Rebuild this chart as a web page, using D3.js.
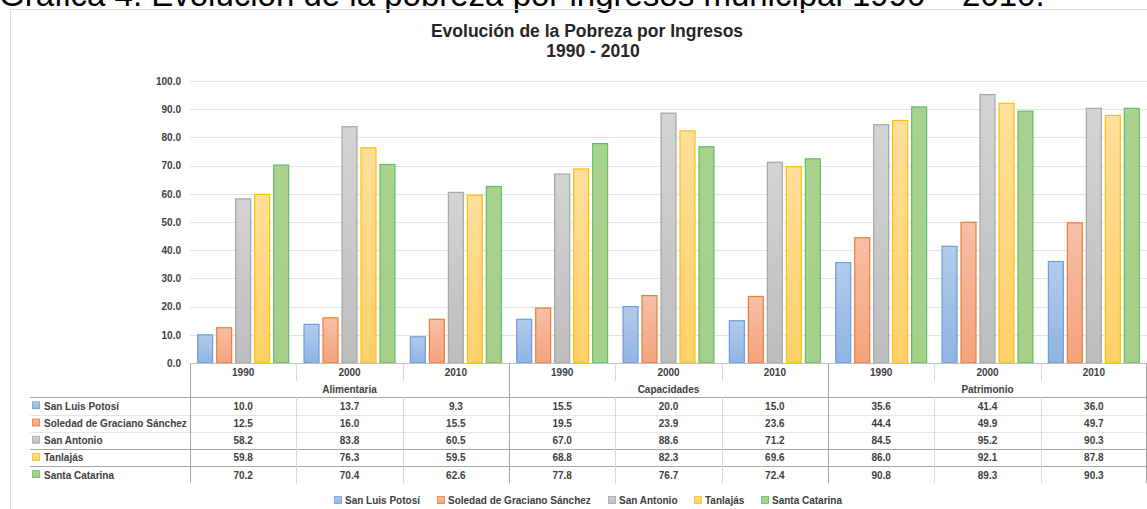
<!DOCTYPE html>
<html>
<head>
<meta charset="utf-8">
<script src="https://cdn.jsdelivr.net/npm/d3@7"></script>
<style>
  body { margin: 0; background: #fff; overflow: hidden; }
  svg { display: block; }
  text { font-family: "Liberation Sans", Arial, sans-serif; }
</style>
</head>
<body>
<div id="chart"></div>
<script>
// Evolución de la Pobreza por Ingresos, 1990 - 2010
const groups = ["Alimentaria", "Capacidades", "Patrimonio"];
const years = ["1990", "2000", "2010"];
const seriesNames = ["San Luis Potosí", "Soledad de Graciano Sánchez", "San Antonio", "Tanlajás", "Santa Catarina"];
const sanLuisPotosi = [10.0, 13.7, 9.3, 15.5, 20.0, 15.0, 35.6, 41.4, 36.0];
const soledad = [12.5, 16.0, 15.5, 19.5, 23.9, 23.6, 44.4, 49.9, 49.7];
const sanAntonio = [58.2, 83.8, 60.5, 67.0, 88.6, 71.2, 84.5, 95.2, 90.3];
const tanlajas = [59.8, 76.3, 59.5, 68.8, 82.3, 69.6, 86.0, 92.1, 87.8];
const santaCatarina = [70.2, 70.4, 62.6, 77.8, 76.7, 72.4, 90.8, 89.3, 90.3];
const yTicks = [0, 10, 20, 30, 40, 50, 60, 70, 80, 90, 100];

const seriesValues = [sanLuisPotosi, soledad, sanAntonio, tanlajas, santaCatarina];
// fill top, fill bottom, stroke
const palette = [
  ["#b3cbeb", "#8fb4e3", "#6a9fd8"],
  ["#f6c0a8", "#f4a27c", "#ed7d31"],
  ["#d4d4d4", "#bdbdbd", "#a5a5a5"],
  ["#ffdf9c", "#ffd06a", "#ffc000"],
  ["#aad28f", "#a6cf8a", "#5cbf6a"]
];

const width = 1147, height = 509;
const plotLeft = 190, plotRight = 1147, plotTop = 81, axisY = 363;
const rowTop = 397.3, rowH = 17.2;

const svg = d3.select("#chart").append("svg")
  .attr("width", width).attr("height", height);

const defs = svg.append("defs");
palette.forEach((p, i) => {
  const g = defs.append("linearGradient").attr("id", "grad" + i)
    .attr("x1", 0).attr("y1", 0).attr("x2", 0).attr("y2", 1);
  g.append("stop").attr("offset", "0%").attr("stop-color", p[0]);
  g.append("stop").attr("offset", "100%").attr("stop-color", p[1]);
});

// caption above the chart frame (cut off at the top, as in the source)
svg.append("text")
  .attr("x", -1).attr("y", 6)
  .attr("font-size", 33)
  .attr("fill", "#000")
  .text("Gráfica 4. Evolución de la pobreza por ingresos municipal 1990 – 2010.");

// chart frame
svg.append("rect")
  .attr("x", 10.5).attr("y", 9.5)
  .attr("width", 1200).attr("height", 600)
  .attr("fill", "none").attr("stroke", "#d9d9d9");

// title
const title = svg.append("text")
  .attr("text-anchor", "middle")
  .attr("font-size", 17.5).attr("font-weight", "bold").attr("fill", "#262626");
title.append("tspan").attr("x", 587).attr("y", 37).text("Evolución de la Pobreza por Ingresos");
title.append("tspan").attr("x", 593).attr("y", 57).text("1990 - 2010");

// scales
const cats = d3.range(groups.length * years.length);
const x0 = d3.scaleBand().domain(cats).range([plotLeft, plotRight]).padding(0);
const x1 = d3.scaleBand().domain(d3.range(seriesNames.length))
  .range([0, x0.bandwidth()]).paddingInner(0.16).paddingOuter(0.38);
const y = d3.scaleLinear().domain([0, 100]).range([axisY, plotTop]);

// gridlines
svg.append("g")
  .selectAll("line").data(yTicks.filter(d => d > 0)).join("line")
  .attr("x1", plotLeft).attr("x2", plotRight)
  .attr("y1", d => Math.round(y(d)) + 0.5).attr("y2", d => Math.round(y(d)) + 0.5)
  .attr("stroke", "#e3e3e3");

const txt = (sel) => sel.attr("font-size", 10).attr("font-weight", "bold").attr("fill", "#404040");

// y axis labels
const yAxis = d3.axisLeft(y).tickValues(yTicks).tickSize(0).tickPadding(0)
  .tickFormat(d3.format(".1f"));
const yg = svg.append("g").attr("transform", "translate(181,0)").call(yAxis);
yg.select(".domain").remove();
yg.selectAll("text").call(txt)
  .attr("font-family", "Liberation Sans, Arial, sans-serif");

// bars
const barData = [];
seriesValues.forEach((vals, s) => vals.forEach((v, c) => barData.push({ s, c, v })));
svg.append("g").selectAll("rect").data(barData).join("rect")
  .attr("x", d => x0(d.c) + x1(d.s) + 0.5)
  .attr("y", d => y(d.v))
  .attr("width", x1.bandwidth() - 1)
  .attr("height", d => axisY - y(d.v))
  .attr("fill", d => `url(#grad${d.s})`)
  .attr("stroke", d => palette[d.s][2])
  .attr("stroke-width", 1.2);

// data table
const table = svg.append("g");
const tableRight = plotRight;
const grid = "#d9d9d9", gridDark = "#a6a6a6";

// category axis line
table.append("line")
  .attr("x1", plotLeft).attr("x2", tableRight)
  .attr("y1", axisY + 0.5).attr("y2", axisY + 0.5)
  .attr("stroke", "#bfbfbf");

// horizontal lines of the rows
const darkRows = [0, 3, 4];
seriesNames.forEach((n, i) => {
  const yy = Math.round(rowTop + i * rowH) + 0.5;
  table.append("line")
    .attr("x1", 30).attr("x2", tableRight)
    .attr("y1", yy).attr("y2", yy)
    .attr("stroke", darkRows.includes(i) ? gridDark : "#e6e6e6");
});
const tableBottom = rowTop + seriesNames.length * rowH;

// vertical lines
cats.forEach(c => {
  const xx = Math.round(x0(c)) + 0.5;
  if (c % years.length === 0) {
    table.append("line").attr("x1", xx).attr("x2", xx)
      .attr("y1", axisY).attr("y2", tableBottom).attr("stroke", gridDark);
  } else {
    table.append("line").attr("x1", xx).attr("x2", xx)
      .attr("y1", axisY).attr("y2", axisY + 18).attr("stroke", grid);
    table.append("line").attr("x1", xx).attr("x2", xx)
      .attr("y1", rowTop).attr("y2", tableBottom).attr("stroke", grid);
  }
});
table.append("line").attr("x1", tableRight - 0.5).attr("x2", tableRight - 0.5)
  .attr("y1", axisY).attr("y2", tableBottom).attr("stroke", gridDark);

// year labels
table.append("g").selectAll("text").data(cats).join("text")
  .attr("x", c => x0(c) + x0.bandwidth() / 2).attr("y", axisY + 13)
  .attr("text-anchor", "middle")
  .text(c => years[c % years.length]).call(txt);

// group labels
table.append("g").selectAll("text").data(groups).join("text")
  .attr("x", (g, i) => x0(i * years.length) + x0.bandwidth() * years.length / 2)
  .attr("y", axisY + 30)
  .attr("text-anchor", "middle")
  .text(g => g).call(txt);

// rows
seriesNames.forEach((name, s) => {
  const ty = rowTop + s * rowH + 12.5;
  table.append("rect")
    .attr("x", 32.5).attr("y", ty - 8).attr("width", 7).attr("height", 7)
    .attr("fill", `url(#grad${s})`).attr("stroke", palette[s][2]).attr("stroke-width", 0.8);
  table.append("text").attr("x", 44).attr("y", ty).text(name).call(txt);
  table.append("g").selectAll("text").data(seriesValues[s]).join("text")
    .attr("x", (v, c) => x0(c) + x0.bandwidth() / 2).attr("y", ty)
    .attr("text-anchor", "middle")
    .text(d3.format(".1f")).call(txt);
});

// legend
const legend = svg.append("g");
const items = seriesNames.map((name, s) => {
  const g = legend.append("g");
  g.append("rect")
    .attr("x", 0.5).attr("y", -7.5).attr("width", 7).attr("height", 7)
    .attr("fill", `url(#grad${s})`).attr("stroke", palette[s][2]).attr("stroke-width", 0.8);
  const t = g.append("text").attr("x", 11).attr("y", 0).text(name).call(txt);
  return { g, w: 11 + t.node().getComputedTextLength() };
});
const gap = 17;
const total = d3.sum(items, d => d.w) + gap * (items.length - 1);
let lx = 588 - total / 2;
items.forEach(it => {
  it.g.attr("transform", `translate(${Math.round(lx)},504)`);
  lx += it.w + gap;
});
</script>
</body>
</html>
